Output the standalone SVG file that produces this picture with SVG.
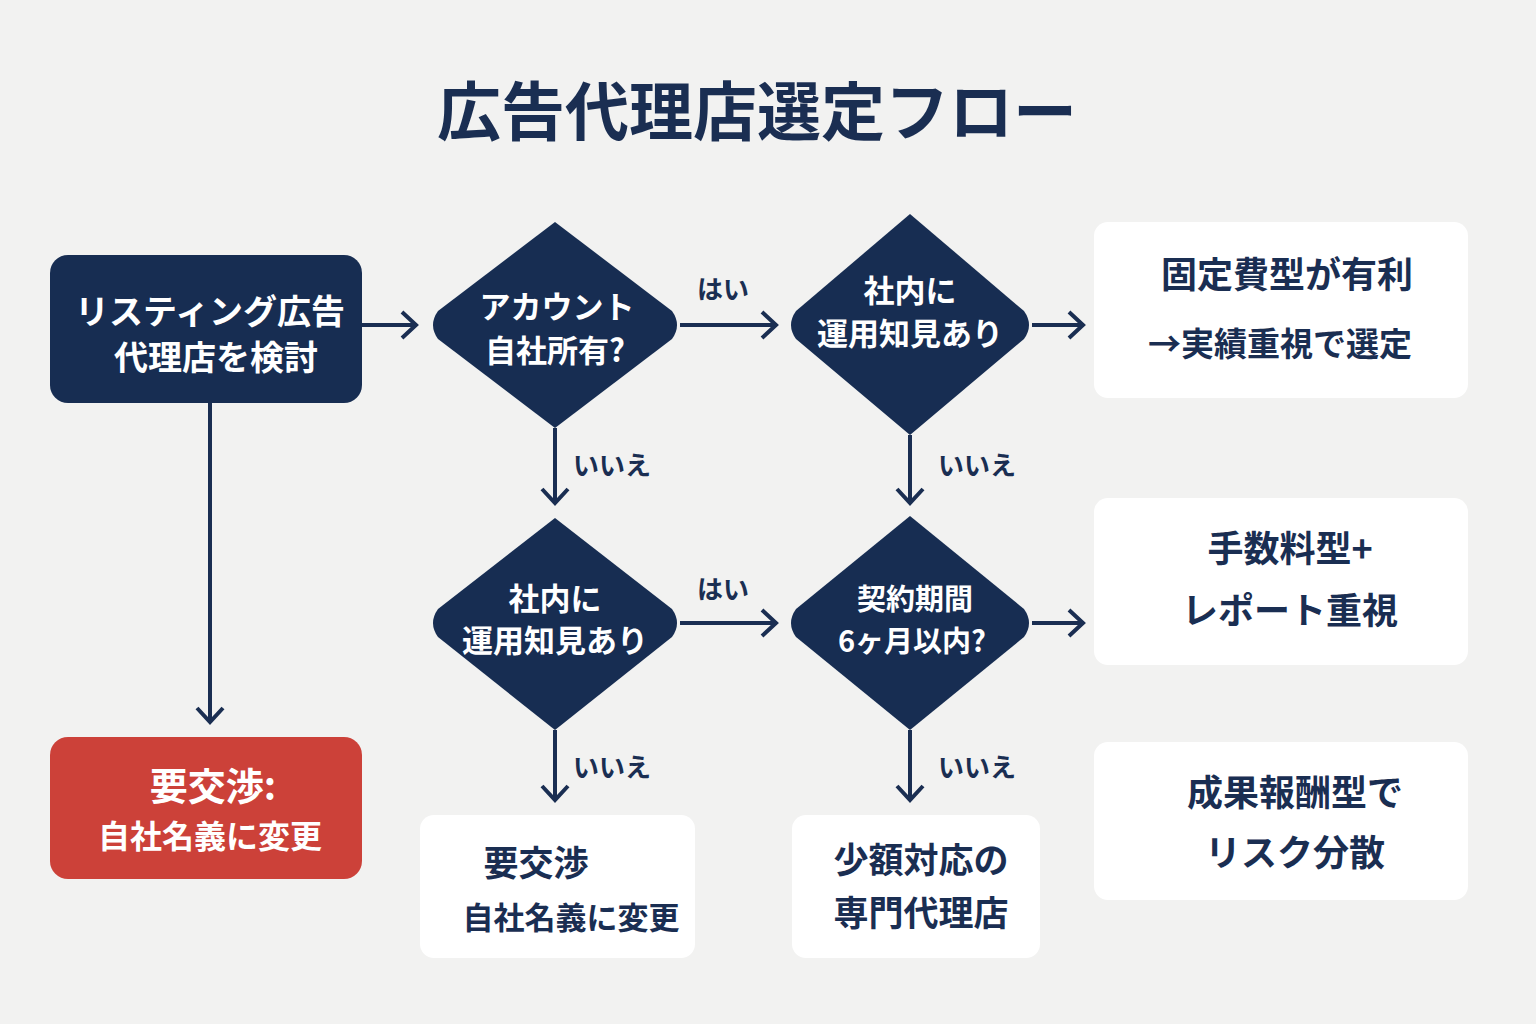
<svg xmlns="http://www.w3.org/2000/svg" width="1536" height="1024" viewBox="0 0 1536 1024">
<defs>
<style>
text{font-family:"Noto Sans CJK JP","Noto Sans",sans-serif;font-weight:700;text-anchor:middle}
.w{fill:#fff}.d{fill:#1a2e52}
.dn{fill:#172d52}
.box{fill:#fff}
.c{stroke:#1a2e52;stroke-width:4;fill:none}
</style>
<marker id="a" viewBox="0 0 20 20" refX="17" refY="10" markerWidth="7" markerHeight="7" orient="auto" markerUnits="userSpaceOnUse">
</marker>
</defs>
<rect width="1536" height="1024" fill="#f2f2f1"/>
<text x="757" y="135" class="d" font-size="64">広告代理店選定フロー</text>
<g id="connectors" class="c">
<path d="M362 325H416M402 312L416 325L402 338"/>
<path d="M680 325H776M762 312L776 325L762 338"/>
<path d="M1032 325H1083M1069 312L1083 325L1069 338"/>
<path d="M555 428V503M542 489L555 503L568 489"/>
<path d="M910 435V503M897 489L910 503L923 489"/>
<path d="M555 730V800M542 786L555 800L568 786"/>
<path d="M910 730V800M897 786L910 800L923 786"/>
<path d="M680 623H776M762 610L776 623L762 636"/>
<path d="M1032 623H1083M1069 610L1083 623L1069 636"/>
<path d="M210 403V722M197 708L210 722L223 708"/>
</g>
<g class="d" font-size="26">
<text x="723" y="299">はい</text>
<text x="723" y="599">はい</text>
<text x="612" y="475">いいえ</text>
<text x="977" y="475">いいえ</text>
<text x="612" y="777">いいえ</text>
<text x="977" y="777">いいえ</text>
</g>
<g id="start"><rect x="50" y="255" width="312" height="148" rx="18" class="dn"/>
<text x="210" y="324" class="w" font-size="34">リスティング広告</text>
<text x="216" y="370" class="w" font-size="34">代理店を検討</text></g>
<g id="q1"><path d="M555 222L672 311Q682 325 672 339L555 428L438 339Q428 325 438 311Z" class="dn"/>
<text x="557" y="318" class="w" font-size="31">アカウント</text>
<text x="555" y="362" class="w" font-size="31">自社所有?</text></g>
<g id="q2"><path d="M910 214L1024 311Q1034 325 1024 339L910 435L796 339Q786 325 796 311Z" class="dn"/>
<text x="910" y="302" class="w" font-size="31">社内に</text>
<text x="910" y="345" class="w" font-size="31">運用知見あり</text></g>
<g id="q3"><path d="M555 518L672 609Q682 623 672 637L555 730L438 637Q428 623 438 609Z" class="dn"/>
<text x="555" y="610" class="w" font-size="31">社内に</text>
<text x="555" y="652" class="w" font-size="31">運用知見あり</text></g>
<g id="q4"><path d="M910 516L1024 609Q1034 623 1024 637L910 730L796 637Q786 623 796 609Z" class="dn"/>
<text x="915" y="610" class="w" font-size="29">契約期間</text>
<text x="912" y="652" class="w" font-size="29">6ヶ月以内?</text></g>
<g id="r1"><rect x="1094" y="222" width="374" height="176" rx="14" class="box"/>
<text x="1287" y="288" class="d" font-size="36">固定費型が有利</text>
<text x="1280" y="356" class="d" font-size="33">→実績重視で選定</text></g>
<g id="r2"><rect x="1094" y="498" width="374" height="167" rx="14" class="box"/>
<text x="1290" y="562" class="d" font-size="36">手数料型+</text>
<text x="1290" y="624" class="d" font-size="36">レポート重視</text></g>
<g id="r3"><rect x="1094" y="742" width="374" height="158" rx="14" class="box"/>
<text x="1295" y="806" class="d" font-size="36">成果報酬型で</text>
<text x="1295" y="866" class="d" font-size="36">リスク分散</text></g>
<g id="neg1"><rect x="50" y="737" width="312" height="142" rx="18" fill="#cc4139"/>
<text x="213" y="800" class="w" font-size="38">要交渉:</text>
<text x="210" y="848" class="w" font-size="32">自社名義に変更</text></g>
<g id="neg2"><rect x="420" y="815" width="275" height="143" rx="14" class="box"/>
<text x="536" y="876" class="d" font-size="35">要交渉</text>
<text x="571" y="929" class="d" font-size="31">自社名義に変更</text></g>
<g id="small"><rect x="792" y="815" width="248" height="143" rx="14" class="box"/>
<text x="921" y="873" class="d" font-size="35">少額対応の</text>
<text x="921" y="926" class="d" font-size="35">専門代理店</text></g>
</svg>
